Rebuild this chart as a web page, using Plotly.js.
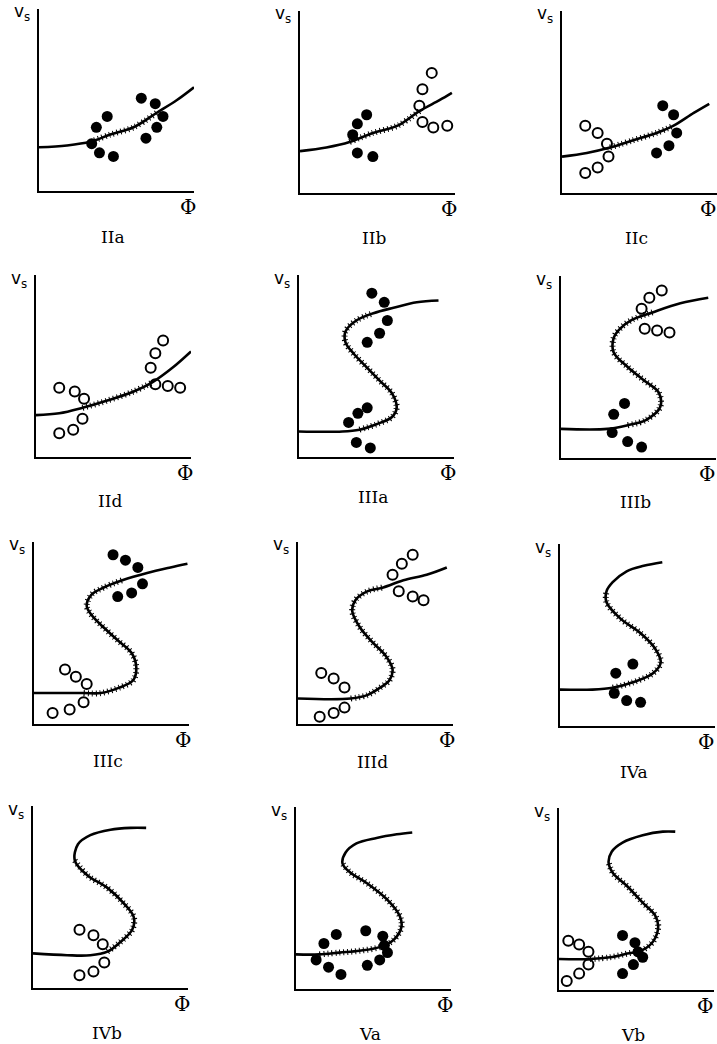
<!DOCTYPE html>
<html>
<head>
<meta charset="utf-8">
<script src="https://cdn.plot.ly/plotly-3.0.1.min.js"></script>
<style>
  html, body { margin: 0; padding: 0; background: #fff; }
  #chart { width: 717px; height: 1044px; }
</style>
</head>
<body>
<div id="chart"></div>
<script>
// Panel order, left to right, top to bottom
const panelNames = ['IIa', 'IIb', 'IIc', 'IId', 'IIIa', 'IIIb', 'IIIc', 'IIId', 'IVa', 'IVb', 'Va', 'Vb'];

// v_s(Φ) curves, relative units (0–10 on each axis)
const curveX_IIa = [0, 1.8, 3.3, 4.6, 6.1, 7.6, 8.9, 10.0];
const curveY_IIa = [2.4, 2.5, 2.7, 3.1, 3.5, 4.3, 5.0, 5.7];
const curveX_IIb = [0, 1.7, 3.2, 4.7, 6.3, 7.7, 9.0, 9.8];
const curveY_IIb = [2.3, 2.5, 2.8, 3.3, 3.7, 4.5, 5.1, 5.5];
const curveX_IIc = [0, 1.6, 3.1, 4.6, 6.1, 7.2, 8.5, 9.5];
const curveY_IIc = [2.0, 2.2, 2.5, 2.9, 3.3, 3.7, 4.4, 4.9];
const curveX_IId = [0, 1.5, 3.0, 4.6, 6.3, 7.5, 8.8, 10.0];
const curveY_IId = [2.3, 2.4, 2.7, 3.1, 3.6, 4.1, 4.9, 5.8];
const curveX_IIIa = [0, 2.8, 3.9, 5.0, 6.0, 6.3, 6.0, 5.2, 4.4, 3.5, 3.0, 3.0, 3.7, 4.8, 6.1, 7.6, 9.0];
const curveY_IIIa = [1.4, 1.4, 1.5, 1.8, 2.2, 2.7, 3.5, 4.2, 4.9, 5.7, 6.3, 6.9, 7.5, 7.9, 8.2, 8.5, 8.6];
const curveX_IIIb = [0, 3.0, 4.3, 5.5, 6.4, 6.3, 5.3, 4.3, 3.4, 3.4, 3.8, 4.6, 5.9, 7.7, 9.5];
const curveY_IIIb = [1.6, 1.6, 1.8, 2.1, 2.8, 3.6, 4.3, 5.0, 5.8, 6.6, 7.1, 7.6, 8.0, 8.5, 8.8];
const curveX_IIIc = [0, 3.2, 4.3, 5.5, 6.4, 6.6, 6.3, 5.4, 4.5, 3.7, 3.4, 3.7, 4.5, 5.7, 7.3, 8.8, 9.9];
const curveY_IIIc = [1.7, 1.7, 1.7, 2.0, 2.4, 3.1, 3.9, 4.6, 5.3, 6.0, 6.5, 7.1, 7.5, 7.9, 8.3, 8.6, 8.8];
const curveX_IIId = [0, 3.4, 4.5, 5.3, 5.9, 6.1, 5.7, 4.8, 4.0, 3.5, 3.7, 4.5, 5.5, 6.8, 8.3, 9.6];
const curveY_IIId = [1.4, 1.4, 1.6, 2.0, 2.4, 3.0, 3.7, 4.5, 5.3, 6.2, 6.8, 7.3, 7.5, 7.9, 8.2, 8.6];
const curveX_IVa = [0, 2.1, 3.4, 4.7, 6.0, 6.5, 6.1, 5.2, 3.9, 3.0, 3.0, 3.4, 4.3, 5.4, 6.6];
const curveY_IVa = [2.0, 2.0, 2.1, 2.4, 2.9, 3.5, 4.3, 5.1, 5.9, 6.8, 7.4, 7.9, 8.5, 8.8, 9.0];
const curveX_IVb = [0, 2.2, 3.7, 4.8, 5.6, 6.4, 6.5, 5.8, 4.8, 3.5, 2.7, 2.9, 3.7, 5.0, 6.3, 7.3];
const curveY_IVb = [1.9, 1.8, 1.8, 2.0, 2.5, 3.2, 3.9, 4.7, 5.5, 6.2, 7.0, 7.9, 8.4, 8.7, 8.8, 8.8];
const curveX_Va = [0, 1.5, 2.8, 4.1, 5.4, 6.3, 6.8, 6.7, 5.9, 4.6, 3.5, 3.0, 3.2, 3.9, 5.2, 6.5, 7.5];
const curveY_Va = [1.9, 1.9, 2.0, 2.1, 2.3, 2.7, 3.4, 4.0, 4.9, 5.8, 6.4, 6.9, 7.5, 8.0, 8.3, 8.5, 8.6];
const curveX_Vb = [0, 2.0, 3.3, 4.4, 5.4, 6.1, 6.4, 6.2, 5.4, 4.4, 3.5, 3.2, 3.4, 4.1, 5.4, 6.7, 7.5];
const curveY_Vb = [1.7, 1.7, 1.8, 2.0, 2.2, 2.7, 3.5, 4.1, 4.8, 5.7, 6.4, 7.0, 7.6, 8.1, 8.5, 8.7, 8.7];

// First and last curve point of the hatched stretch
const hatch_IIa = [2, 5];
const hatch_IIb = [2, 5];
const hatch_IIc = [2, 5];
const hatch_IId = [2, 5];
const hatch_IIIa = [2, 13];
const hatch_IIIb = [2, 12];
const hatch_IIIc = [1, 13];
const hatch_IIId = [1, 12];
const hatch_IVa = [2, 10];
const hatch_IVb = [3, 10];
const hatch_Va = [1, 11];
const hatch_Vb = [1, 11];

// Filled-circle data points
const solidX_IIa = [6.6, 7.5, 8.0, 7.6, 6.9, 4.4, 3.7, 3.4, 3.9, 4.8];
const solidY_IIa = [5.1, 4.8, 4.1, 3.5, 2.9, 4.1, 3.5, 2.6, 2.1, 1.9];
const solidX_IIb = [4.3, 3.7, 3.4, 3.7, 4.7];
const solidY_IIb = [4.3, 3.8, 3.2, 2.2, 2.0];
const solidX_IIc = [6.5, 7.2, 7.4, 6.9, 6.1];
const solidY_IIc = [4.8, 4.3, 3.3, 2.6, 2.2];
const solidX_IId = [];
const solidY_IId = [];
const solidX_IIIa = [4.7, 5.5, 5.7, 5.2, 4.4, 4.4, 3.8, 3.2, 3.7, 4.6];
const solidY_IIIa = [9.0, 8.5, 7.5, 6.8, 6.3, 2.7, 2.4, 1.9, 0.8, 0.5];
const solidX_IIIb = [4.1, 3.4, 3.3, 4.3, 5.2];
const solidY_IIIb = [3.0, 2.4, 1.4, 0.9, 0.6];
const solidX_IIIc = [5.1, 5.9, 6.7, 7.0, 6.3, 5.4];
const solidY_IIIc = [9.3, 9.0, 8.6, 7.7, 7.2, 7.0];
const solidX_IIId = [];
const solidY_IIId = [];
const solidX_IVa = [4.7, 3.6, 3.5, 4.3, 5.2];
const solidY_IVa = [3.4, 2.9, 1.8, 1.4, 1.3];
const solidX_IVb = [];
const solidY_IVb = [];
const solidX_Va = [1.8, 2.6, 4.5, 5.6, 5.7, 5.9, 5.4, 4.6, 1.3, 2.1, 2.9];
const solidY_Va = [2.5, 3.0, 3.2, 2.9, 2.4, 2.0, 1.6, 1.3, 1.6, 1.2, 0.8];
const solidX_Vb = [4.1, 4.9, 5.1, 5.4, 4.8, 4.1];
const solidY_Vb = [3.0, 2.6, 2.1, 1.8, 1.4, 0.9];

// Open-circle data points
const openX_IIa = [];
const openY_IIa = [];
const openX_IIb = [8.5, 7.9, 7.7, 7.9, 8.6, 9.5];
const openY_IIb = [6.6, 5.7, 4.8, 3.9, 3.6, 3.7];
const openX_IIc = [1.5, 2.3, 2.9, 3.0, 2.3, 1.5];
const openY_IIc = [3.7, 3.3, 2.7, 2.0, 1.4, 1.1];
const openX_IId = [1.5, 2.5, 3.1, 3.0, 2.4, 1.5, 7.4, 7.7, 8.2, 7.7, 8.5, 9.3];
const openY_IId = [3.8, 3.6, 3.2, 2.1, 1.5, 1.3, 4.9, 5.7, 6.4, 4.0, 3.9, 3.8];
const openX_IIIa = [];
const openY_IIIa = [];
const openX_IIIb = [6.5, 5.7, 5.2, 5.4, 6.2, 7.0];
const openY_IIIb = [9.2, 8.8, 8.2, 7.1, 7.0, 6.9];
const openX_IIIc = [2.0, 2.7, 3.4, 3.2, 2.3, 1.2];
const openY_IIIc = [3.0, 2.6, 2.2, 1.2, 0.8, 0.6];
const openX_IIId = [7.4, 6.7, 6.1, 6.5, 7.4, 8.1, 1.5, 2.3, 3.0, 3.0, 2.3, 1.4];
const openY_IIId = [9.3, 8.8, 8.2, 7.3, 7.0, 6.8, 2.8, 2.5, 2.0, 0.9, 0.6, 0.4];
const openX_IVa = [];
const openY_IVa = [];
const openX_IVb = [3.0, 3.9, 4.5, 4.6, 3.9, 3.0];
const openY_IVb = [3.2, 2.9, 2.4, 1.4, 0.9, 0.7];
const openX_Va = [];
const openY_Va = [];
const openX_Vb = [0.6, 1.3, 1.9, 1.9, 1.3, 0.5];
const openY_Vb = [2.7, 2.5, 2.1, 1.4, 0.9, 0.5];

const panelData = {
  IIa:  [curveX_IIa, curveY_IIa, hatch_IIa, solidX_IIa, solidY_IIa, openX_IIa, openY_IIa],
  IIb:  [curveX_IIb, curveY_IIb, hatch_IIb, solidX_IIb, solidY_IIb, openX_IIb, openY_IIb],
  IIc:  [curveX_IIc, curveY_IIc, hatch_IIc, solidX_IIc, solidY_IIc, openX_IIc, openY_IIc],
  IId:  [curveX_IId, curveY_IId, hatch_IId, solidX_IId, solidY_IId, openX_IId, openY_IId],
  IIIa: [curveX_IIIa, curveY_IIIa, hatch_IIIa, solidX_IIIa, solidY_IIIa, openX_IIIa, openY_IIIa],
  IIIb: [curveX_IIIb, curveY_IIIb, hatch_IIIb, solidX_IIIb, solidY_IIIb, openX_IIIb, openY_IIIb],
  IIIc: [curveX_IIIc, curveY_IIIc, hatch_IIIc, solidX_IIIc, solidY_IIIc, openX_IIIc, openY_IIIc],
  IIId: [curveX_IIId, curveY_IIId, hatch_IIId, solidX_IIId, solidY_IIId, openX_IIId, openY_IIId],
  IVa:  [curveX_IVa, curveY_IVa, hatch_IVa, solidX_IVa, solidY_IVa, openX_IVa, openY_IVa],
  IVb:  [curveX_IVb, curveY_IVb, hatch_IVb, solidX_IVb, solidY_IVb, openX_IVb, openY_IVb],
  Va:   [curveX_Va, curveY_Va, hatch_Va, solidX_Va, solidY_Va, openX_Va, openY_Va],
  Vb:   [curveX_Vb, curveY_Vb, hatch_Vb, solidX_Vb, solidY_Vb, openX_Vb, openY_Vb]
};

// Page geometry (pixels): axis corner of each panel, plot box size,
// caption drop below the Φ axis
const W = 717, H = 1044;
const boxW = 155, boxH = 182;
const corners = {
  IIa: [39, 191], IIb: [300, 193], IIc: [562, 193],
  IId: [36, 457], IIIa: [299, 457], IIIb: [561, 458],
  IIIc: [34, 724], IIId: [298, 724], IVa: [560, 726],
  IVb: [33, 988], Va: [296, 989], Vb: [559, 990]
};
const captionDrop = {
  IIa: 46, IIb: 45, IIc: 45, IId: 44, IIIa: 40, IIIb: 44,
  IIIc: 37, IIId: 38, IVa: 46, IVb: 45, Va: 45, Vb: 45
};

const traces = [];
const layout = {
  width: W, height: H,
  margin: {l: 0, r: 0, t: 0, b: 0},
  paper_bgcolor: '#fff', plot_bgcolor: 'rgba(0,0,0,0)',
  showlegend: false,
  annotations: []
};

panelNames.forEach((name, i) => {
  const n = i + 1;
  const xa = n === 1 ? 'x' : 'x' + n;
  const ya = n === 1 ? 'y' : 'y' + n;
  const [cx, cy, hatch, sx, sy, ox, oy] = panelData[name];
  const [px, py] = corners[name];
  const rightEdge = px + boxW >= W - 6;

  layout[n === 1 ? 'xaxis' : 'xaxis' + n] = {
    domain: [px / W, Math.min(1, (px + boxW) / W)],
    range: [0, 10], anchor: ya,
    showline: true, linewidth: 2, linecolor: '#000',
    showgrid: false, zeroline: false, showticklabels: false, ticks: '', fixedrange: true
  };
  layout[n === 1 ? 'yaxis' : 'yaxis' + n] = {
    domain: [(H - py) / H, (H - py + boxH) / H],
    range: [0, 10], anchor: xa,
    showline: true, linewidth: 2, linecolor: '#000',
    showgrid: false, zeroline: false, showticklabels: false, ticks: '', fixedrange: true
  };

  // main curve
  traces.push({
    x: cx, y: cy, xaxis: xa, yaxis: ya, type: 'scatter', mode: 'lines',
    line: {color: '#000', width: 2.6, shape: 'spline'}, cliponaxis: false, hoverinfo: 'skip'
  });
  // cross-hatched stretch: short strokes across the curve
  traces.push({
    x: cx.slice(hatch[0], hatch[1] + 1), y: cy.slice(hatch[0], hatch[1] + 1),
    xaxis: xa, yaxis: ya, type: 'scatter', mode: 'lines',
    line: {color: '#000', width: 6, shape: 'spline', dash: '1px,3px'}, cliponaxis: false, hoverinfo: 'skip'
  });
  if (sx.length) traces.push({
    x: sx, y: sy, xaxis: xa, yaxis: ya, type: 'scatter', mode: 'markers',
    marker: {symbol: 'circle', size: 11, color: '#000'}, cliponaxis: false
  });
  if (ox.length) traces.push({
    x: ox, y: oy, xaxis: xa, yaxis: ya, type: 'scatter', mode: 'markers',
    marker: {symbol: 'circle-open', size: 10, color: '#000', line: {width: 2}}, cliponaxis: false
  });

  // axis names and panel caption
  layout.annotations.push({
    text: 'v<sub>s</sub>', xref: xa + ' domain', yref: ya + ' domain',
    x: 0, y: 1, xshift: -17, yshift: -4, showarrow: false,
    xanchor: 'center', yanchor: 'middle',
    font: {family: 'DejaVu Sans, sans-serif', size: 17, color: '#000'}
  });
  layout.annotations.push({
    text: 'Φ', xref: xa + ' domain', yref: ya + ' domain',
    x: 1, y: 0, xshift: rightEdge ? -9 : -6, yshift: -16, showarrow: false,
    xanchor: 'center', yanchor: 'middle',
    font: {family: 'DejaVu Serif, serif', size: 20, color: '#000'}
  });
  layout.annotations.push({
    text: name, xref: xa + ' domain', yref: ya + ' domain',
    x: 0.48, y: 0, yshift: -captionDrop[name], showarrow: false,
    xanchor: 'center', yanchor: 'middle',
    font: {family: 'DejaVu Serif, serif', size: 17, color: '#000'}
  });
});

Plotly.newPlot('chart', traces, layout, {displayModeBar: false, staticPlot: true});
</script>
</body>
</html>
